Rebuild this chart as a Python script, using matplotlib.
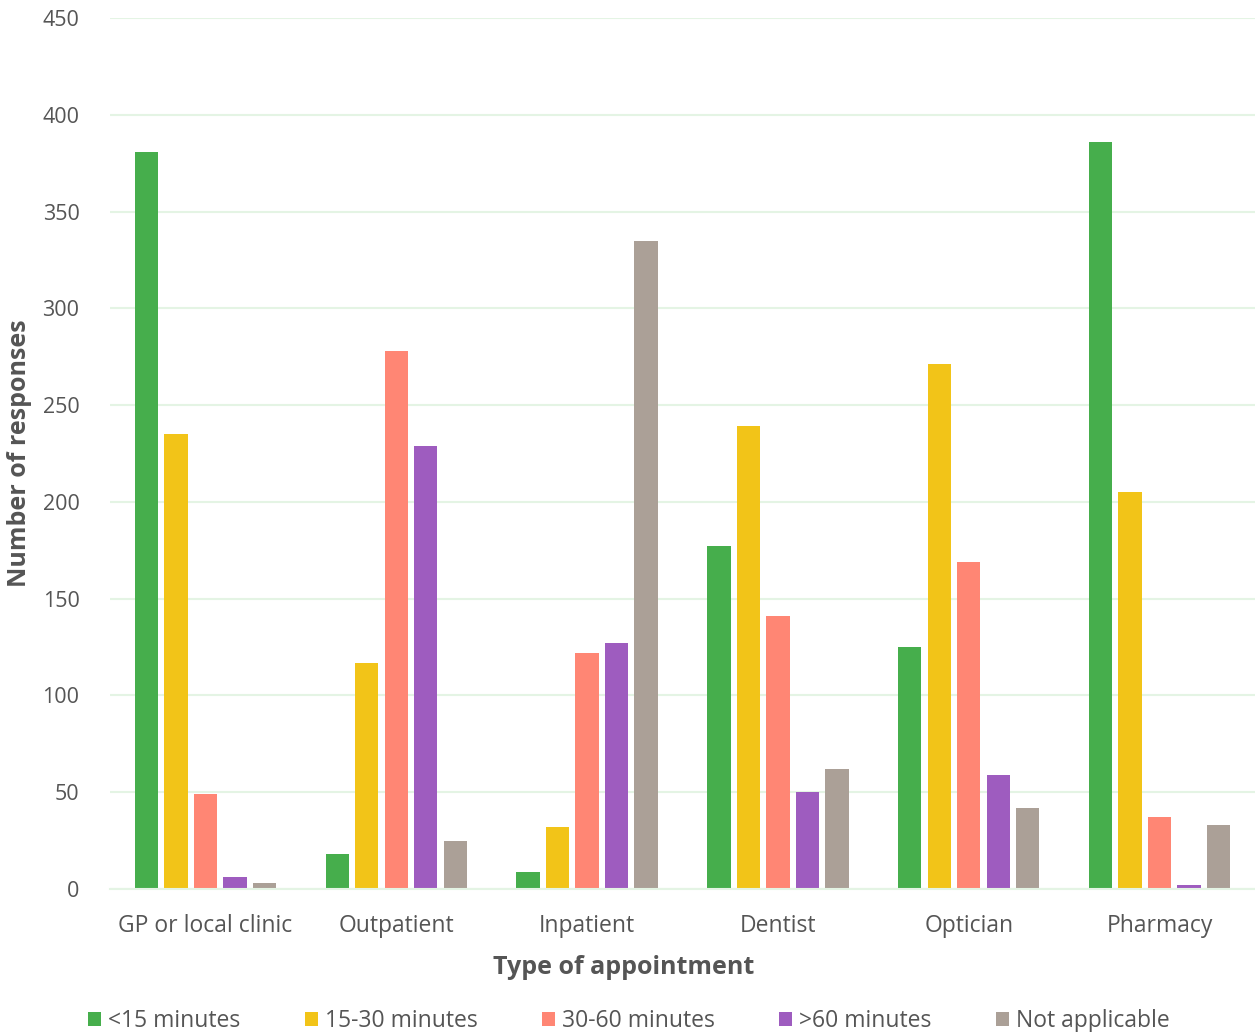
import numpy as np
import matplotlib.pyplot as plt
from matplotlib.patches import Patch

plt.rcParams['font.family'] = ['Open Sans', 'DejaVu Sans']

# Responses per appointment type and waiting time
appointments = ['GP or local clinic', 'Outpatient', 'Inpatient', 'Dentist', 'Optician', 'Pharmacy']
series_names = ['<15 minutes', '15-30 minutes', '30-60 minutes', '>60 minutes', 'Not applicable']
under_15 = [381, 18, 9, 177, 125, 386]
from_15_to_30 = [235, 117, 32, 239, 271, 205]
from_30_to_60 = [49, 278, 122, 141, 169, 37]
over_60 = [6, 229, 127, 50, 59, 2]
not_applicable = [3, 25, 335, 62, 42, 33]
y_ticks = [0, 50, 100, 150, 200, 250, 300, 350, 400, 450]

colors = ['#46AE4C', '#F2C418', '#FF8674', '#9E5CBF', '#ABA097']
text_color = '#555555'
grid_color = '#E4F4E4'

fig = plt.figure(figsize=(12.55, 10.32), dpi=100)
ax = fig.add_axes([110 / 1255, 143 / 1032, 1145 / 1255, 871 / 1032])

x = np.arange(len(appointments))
width = 0.122
step = 0.1545
all_series = [under_15, from_15_to_30, from_30_to_60, over_60, not_applicable]
for i, (vals, col) in enumerate(zip(all_series, colors)):
    ax.bar(x + (i - 2) * step, vals, width=width, color=col, zorder=2)

ax.set_xlim(-0.5, len(appointments) - 0.5)
ax.set_ylim(0, 450)
ax.set_yticks(y_ticks)
ax.set_xticks(x)
ax.set_xticklabels(appointments)
ax.yaxis.grid(True, color=grid_color, linewidth=1.5, zorder=0)
ax.set_axisbelow(True)
for s in ['top', 'right', 'left']:
    ax.spines[s].set_visible(False)
ax.spines['bottom'].set_color(grid_color)
ax.spines['bottom'].set_linewidth(1.5)
ax.tick_params(axis='both', length=0, labelcolor=text_color)
ax.tick_params(axis='y', pad=22, labelsize=15.5)
ax.tick_params(axis='x', pad=18, labelsize=16.5)

ax.set_xlabel('Type of appointment', fontsize=18, fontweight='bold', color=text_color)
ax.xaxis.set_label_coords((624 - 110) / 1145, -66 / 871)
ax.set_ylabel('Number of responses', fontsize=18, fontweight='bold', color=text_color)
ax.yaxis.set_label_coords(-78 / 1145, 0.5)

handles = [Patch(facecolor=c, edgecolor='none') for c in colors]
fig.legend(handles, series_names, loc='center left', bbox_to_anchor=(88 / 1255, 1 - 1021 / 1032),
           ncol=5, frameon=False, fontsize=16.5, labelcolor=text_color,
           handlelength=0.58, handleheight=0.58, handletextpad=0.3, columnspacing=2.8,
           borderaxespad=0, borderpad=0)

fig.savefig('out.png', dpi=100)
